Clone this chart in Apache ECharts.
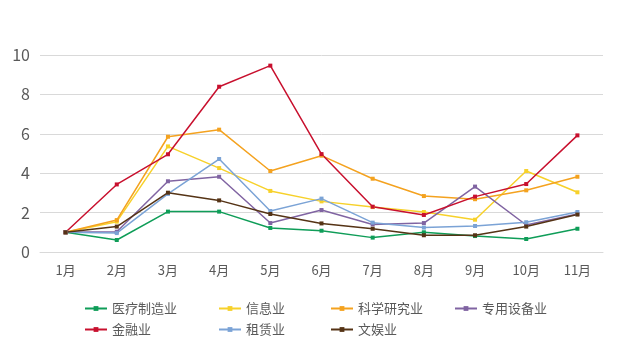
<!DOCTYPE html>
<html style="height: 100%">
<head>
<meta charset="utf-8">
</head>
<body style="height: 100%; margin: 0; background: #fff">
<div id="container" style="width: 617px; height: 350px"></div>
<script src="https://cdn.jsdelivr.net/npm/echarts@6/dist/echarts.min.js"></script>
<script type="text/javascript">
var months = ['1月', '2月', '3月', '4月', '5月', '6月', '7月', '8月', '9月', '10月', '11月'];

// 各行业月度数据
var yiliao = [1.0, 0.61, 2.05, 2.05, 1.22, 1.08, 0.73, 1.0, 0.81, 0.66, 1.18];
var xinxi = [1.0, 1.54, 5.36, 4.26, 3.10, 2.57, 2.28, 2.03, 1.64, 4.11, 3.03];
var keyan = [1.0, 1.62, 5.85, 6.21, 4.11, 4.89, 3.72, 2.84, 2.68, 3.13, 3.82];
var zhuanyong = [1.0, 1.03, 3.59, 3.82, 1.47, 2.13, 1.40, 1.47, 3.32, 1.37, 1.93];
var jinrong = [1.0, 3.43, 4.96, 8.39, 9.46, 4.97, 2.30, 1.88, 2.81, 3.45, 5.92];
var zulin = [1.0, 0.96, 2.95, 4.72, 2.08, 2.71, 1.49, 1.24, 1.32, 1.51, 2.03];
var wenyu = [1.0, 1.29, 3.01, 2.62, 1.93, 1.45, 1.18, 0.85, 0.85, 1.29, 1.90];

var names = ['医疗制造业', '信息业', '科学研究业', '专用设备业', '金融业', '租赁业', '文娱业'];
var datas = [yiliao, xinxi, keyan, zhuanyong, jinrong, zulin, wenyu];
var colors = ['#0f9d58', '#f7d12a', '#f4a21f', '#8064a2', '#c8102e', '#7ba3d6', '#553315'];

// 图例位置
var legendPos = [[84, 302], [218, 302], [330, 302], [454, 302], [84, 323], [218, 323], [330, 323]];

var dom = document.getElementById('container');
var myChart = echarts.init(dom);

var series = [];
var legends = [];
for (var i = 0; i < names.length; i++) {
    series.push({
        name: names[i],
        type: 'line',
        data: datas[i],
        symbol: 'rect',
        symbolSize: 4,
        lineStyle: { width: 1.5 },
        itemStyle: { color: colors[i] },
        emphasis: { disabled: true }
    });
    legends.push({
        data: [names[i]],
        left: legendPos[i][0],
        top: legendPos[i][1],
        itemWidth: 22,
        itemHeight: 6,
        padding: 0,
        textStyle: { fontFamily: 'Noto Sans CJK SC', fontSize: 13, color: '#595959' }
    });
}

var option = {
    animation: false,
    color: colors,
    grid: { left: 40, right: 14, top: 55, bottom: 98 },
    legend: legends,
    xAxis: {
        type: 'category',
        data: months,
        boundaryGap: true,
        axisLine: { lineStyle: { color: '#d9d9d9' } },
        axisTick: { show: false },
        axisLabel: { fontFamily: 'Noto Sans CJK SC', fontSize: 13, color: '#595959', margin: 12 }
    },
    yAxis: {
        type: 'value',
        min: 0,
        max: 10,
        interval: 2,
        axisLine: { show: false },
        axisTick: { show: false },
        splitLine: { lineStyle: { color: '#d9d9d9' } },
        axisLabel: { fontFamily: 'Noto Sans CJK SC', fontSize: 16, color: '#595959', margin: 10 }
    },
    series: series
};
myChart.setOption(option);
</script>
</body>
</html>
